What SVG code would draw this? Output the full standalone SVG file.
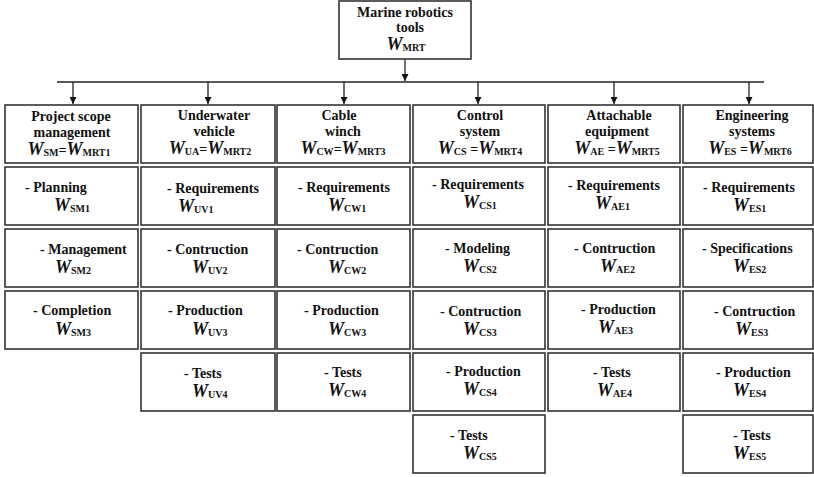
<svg xmlns="http://www.w3.org/2000/svg" width="814" height="477" viewBox="0 0 814 477">
<style>
.box{fill:#fff;stroke:#333;stroke-width:1.6}
.t{font-family:"Liberation Serif","Times New Roman",serif;font-weight:bold;font-size:14px;fill:#111}
.c{text-anchor:middle}
.w{font-style:italic;font-size:18px}
.s{font-size:10px}
.ln{stroke:#222;stroke-width:1.3;fill:none}
</style>
<defs>
<marker id="ah" viewBox="0 0 8 8" refX="8" refY="4" markerWidth="8" markerHeight="7" markerUnits="userSpaceOnUse" orient="auto">
<path d="M0,0 L8,4 L0,8 z" fill="#111"/>
</marker>
</defs>
<rect width="814" height="477" fill="#fff"/>
<g id="connectors">
<line class="ln" x1="405" y1="59" x2="405" y2="81" marker-end="url(#ah)"/>
<line class="ln" x1="57" y1="82" x2="764" y2="82"/>
<line class="ln" x1="73" y1="82" x2="73" y2="104" marker-end="url(#ah)"/>
<line class="ln" x1="208" y1="82" x2="208" y2="104" marker-end="url(#ah)"/>
<line class="ln" x1="344" y1="82" x2="344" y2="104" marker-end="url(#ah)"/>
<line class="ln" x1="478" y1="82" x2="478" y2="104" marker-end="url(#ah)"/>
<line class="ln" x1="614" y1="82" x2="614" y2="104" marker-end="url(#ah)"/>
<line class="ln" x1="749" y1="82" x2="749" y2="104" marker-end="url(#ah)"/>
</g>
<g id="root">
<rect class="box" x="339" y="1" width="132" height="58"/>
<text class="t c" x="405" y="17">Marine robotics</text>
<text class="t c" x="410" y="32">tools</text>
<text class="t c" x="406" y="50"><tspan class="w">W</tspan><tspan class="s" dy="1">MRT</tspan></text>
</g>
<g id="sm">
<rect class="box" x="5" y="105" width="133" height="58"/>
<text class="t c" x="71" y="121">Project scope</text>
<text class="t c" x="72" y="137">management</text>
<text class="t c" x="69" y="155"><tspan class="w">W</tspan><tspan class="s" dy="1">SM</tspan><tspan dy="-1">=</tspan><tspan class="w">W</tspan><tspan class="s" dy="1">MRT1</tspan></text>
</g>
<g id="ua">
<rect class="box" x="141" y="105" width="134" height="58"/>
<text class="t c" x="214" y="120">Underwater</text>
<text class="t c" x="214" y="136">vehicle</text>
<text class="t c" x="210" y="154"><tspan class="w">W</tspan><tspan class="s" dy="1">UA</tspan><tspan dy="-1">=</tspan><tspan class="w">W</tspan><tspan class="s" dy="1">MRT2</tspan></text>
</g>
<g id="cw">
<rect class="box" x="277" y="105" width="133" height="58"/>
<text class="t c" x="339" y="120">Cable</text>
<text class="t c" x="343" y="136">winch</text>
<text class="t c" x="343" y="154"><tspan class="w">W</tspan><tspan class="s" dy="1">CW</tspan><tspan dy="-1">=</tspan><tspan class="w">W</tspan><tspan class="s" dy="1">MRT3</tspan></text>
</g>
<g id="cs">
<rect class="box" x="413" y="105" width="132" height="58"/>
<text class="t c" x="480" y="120">Control</text>
<text class="t c" x="480" y="136">system</text>
<text class="t c" x="480" y="154"><tspan class="w">W</tspan><tspan class="s" dy="1">CS</tspan><tspan dy="-1"> =</tspan><tspan class="w">W</tspan><tspan class="s" dy="1">MRT4</tspan></text>
</g>
<g id="ae">
<rect class="box" x="548" y="105" width="132" height="58"/>
<text class="t c" x="619" y="120">Attachable</text>
<text class="t c" x="617" y="136">equipment</text>
<text class="t c" x="617" y="154"><tspan class="w">W</tspan><tspan class="s" dy="1">AE</tspan><tspan dy="-1"> =</tspan><tspan class="w">W</tspan><tspan class="s" dy="1">MRT5</tspan></text>
</g>
<g id="es">
<rect class="box" x="683" y="105" width="130" height="58"/>
<text class="t c" x="752" y="120">Engineering</text>
<text class="t c" x="752" y="136">systems</text>
<text class="t c" x="750" y="154"><tspan class="w">W</tspan><tspan class="s" dy="1">ES</tspan><tspan dy="-1"> =</tspan><tspan class="w">W</tspan><tspan class="s" dy="1">MRT6</tspan></text>
</g>

<g id="sm1"><rect class="box" x="5" y="167" width="133" height="58"/>
<text class="t" x="25" y="192">- Planning</text>
<text class="t" x="54" y="211"><tspan class="w">W</tspan><tspan class="s" dy="1">SM1</tspan></text></g>
<g id="sm2"><rect class="box" x="5" y="229" width="133" height="58"/>
<text class="t" x="40" y="254">- Management</text>
<text class="t" x="55" y="273"><tspan class="w">W</tspan><tspan class="s" dy="1">SM2</tspan></text></g>
<g id="sm3"><rect class="box" x="5" y="291" width="133" height="58"/>
<text class="t" x="33" y="315">- Completion</text>
<text class="t" x="55" y="335"><tspan class="w">W</tspan><tspan class="s" dy="1">SM3</tspan></text></g>

<g id="uv1"><rect class="box" x="141" y="167" width="134" height="58"/>
<text class="t" x="167" y="193">- Requirements</text>
<text class="t" x="178" y="212"><tspan class="w">W</tspan><tspan class="s" dy="1">UV1</tspan></text></g>
<g id="uv2"><rect class="box" x="141" y="229" width="134" height="58"/>
<text class="t" x="167" y="254">- Contruction</text>
<text class="t" x="192" y="273"><tspan class="w">W</tspan><tspan class="s" dy="1">UV2</tspan></text></g>
<g id="uv3"><rect class="box" x="141" y="291" width="134" height="58"/>
<text class="t" x="168" y="315">- Production</text>
<text class="t" x="192" y="335"><tspan class="w">W</tspan><tspan class="s" dy="1">UV3</tspan></text></g>
<g id="uv4"><rect class="box" x="141" y="353" width="134" height="58"/>
<text class="t" x="184" y="378">- Tests</text>
<text class="t" x="192" y="397"><tspan class="w">W</tspan><tspan class="s" dy="1">UV4</tspan></text></g>

<g id="cw1"><rect class="box" x="277" y="167" width="133" height="58"/>
<text class="t" x="298" y="192">- Requirements</text>
<text class="t" x="328" y="211"><tspan class="w">W</tspan><tspan class="s" dy="1">CW1</tspan></text></g>
<g id="cw2"><rect class="box" x="277" y="229" width="133" height="58"/>
<text class="t" x="297" y="254">- Contruction</text>
<text class="t" x="328" y="273"><tspan class="w">W</tspan><tspan class="s" dy="1">CW2</tspan></text></g>
<g id="cw3"><rect class="box" x="277" y="291" width="133" height="58"/>
<text class="t" x="304" y="315">- Production</text>
<text class="t" x="328" y="335"><tspan class="w">W</tspan><tspan class="s" dy="1">CW3</tspan></text></g>
<g id="cw4"><rect class="box" x="277" y="353" width="133" height="58"/>
<text class="t" x="324" y="377">- Tests</text>
<text class="t" x="328" y="396"><tspan class="w">W</tspan><tspan class="s" dy="1">CW4</tspan></text></g>

<g id="cs1"><rect class="box" x="413" y="167" width="132" height="58"/>
<text class="t" x="432" y="189">- Requirements</text>
<text class="t" x="463" y="208"><tspan class="w">W</tspan><tspan class="s" dy="1">CS1</tspan></text></g>
<g id="cs2"><rect class="box" x="413" y="229" width="132" height="58"/>
<text class="t" x="445" y="253">- Modeling</text>
<text class="t" x="463" y="272"><tspan class="w">W</tspan><tspan class="s" dy="1">CS2</tspan></text></g>
<g id="cs3"><rect class="box" x="413" y="291" width="132" height="58"/>
<text class="t" x="440" y="316">- Contruction</text>
<text class="t" x="463" y="335"><tspan class="w">W</tspan><tspan class="s" dy="1">CS3</tspan></text></g>
<g id="cs4"><rect class="box" x="413" y="353" width="132" height="58"/>
<text class="t" x="446" y="376">- Production</text>
<text class="t" x="463" y="395"><tspan class="w">W</tspan><tspan class="s" dy="1">CS4</tspan></text></g>
<g id="cs5"><rect class="box" x="413" y="415" width="132" height="58"/>
<text class="t" x="450" y="440">- Tests</text>
<text class="t" x="463" y="459"><tspan class="w">W</tspan><tspan class="s" dy="1">CS5</tspan></text></g>

<g id="ae1"><rect class="box" x="548" y="167" width="132" height="58"/>
<text class="t" x="568" y="190">- Requirements</text>
<text class="t" x="595" y="209"><tspan class="w">W</tspan><tspan class="s" dy="1">AE1</tspan></text></g>
<g id="ae2"><rect class="box" x="548" y="229" width="132" height="58"/>
<text class="t" x="574" y="253">- Contruction</text>
<text class="t" x="600" y="272"><tspan class="w">W</tspan><tspan class="s" dy="1">AE2</tspan></text></g>
<g id="ae3"><rect class="box" x="548" y="291" width="132" height="58"/>
<text class="t" x="581" y="314">- Production</text>
<text class="t" x="598" y="333"><tspan class="w">W</tspan><tspan class="s" dy="1">AE3</tspan></text></g>
<g id="ae4"><rect class="box" x="548" y="353" width="132" height="58"/>
<text class="t" x="593" y="377">- Tests</text>
<text class="t" x="597" y="396"><tspan class="w">W</tspan><tspan class="s" dy="1">AE4</tspan></text></g>

<g id="es1"><rect class="box" x="683" y="167" width="130" height="58"/>
<text class="t" x="703" y="192">- Requirements</text>
<text class="t" x="733" y="211"><tspan class="w">W</tspan><tspan class="s" dy="1">ES1</tspan></text></g>
<g id="es2"><rect class="box" x="683" y="229" width="130" height="58"/>
<text class="t" x="702" y="253">- Specifications</text>
<text class="t" x="733" y="272"><tspan class="w">W</tspan><tspan class="s" dy="1">ES2</tspan></text></g>
<g id="es3"><rect class="box" x="683" y="291" width="130" height="58"/>
<text class="t" x="714" y="316">- Contruction</text>
<text class="t" x="735" y="335"><tspan class="w">W</tspan><tspan class="s" dy="1">ES3</tspan></text></g>
<g id="es4"><rect class="box" x="683" y="353" width="130" height="58"/>
<text class="t" x="716" y="377">- Production</text>
<text class="t" x="733" y="396"><tspan class="w">W</tspan><tspan class="s" dy="1">ES4</tspan></text></g>
<g id="es5"><rect class="box" x="683" y="415" width="130" height="58"/>
<text class="t" x="733" y="440">- Tests</text>
<text class="t" x="733" y="459"><tspan class="w">W</tspan><tspan class="s" dy="1">ES5</tspan></text></g>
</svg>
